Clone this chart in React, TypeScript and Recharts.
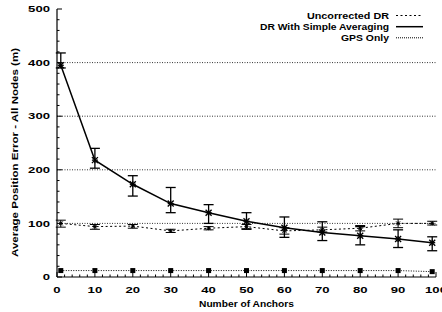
import {
  ComposedChart,
  ErrorBar,
  Legend,
  Line,
  ReferenceLine,
  XAxis,
  YAxis,
} from 'recharts'

const anchors = [1, 10, 20, 30, 40, 50, 60, 70, 80, 90, 99]
const uncorrected = [100, 94, 95, 86, 91, 94, 86, 88, 91, 100, 100]
const uncorrectedLow = [93, 89, 91, 83, 88, 90, 80, 84, 86, 92, 97]
const uncorrectedHigh = [106, 98, 98, 89, 94, 98, 92, 93, 96, 108, 104]
const averaging = [395, 218, 173, 137, 120, 104, 92, 83, 77, 71, 64]
const averagingLow = [390, 203, 151, 120, 100, 89, 74, 68, 60, 55, 49]
const averagingHigh = [418, 240, 189, 167, 135, 120, 112, 103, 94, 88, 75]
const gpsOnly = [12, 12, 12, 12, 12, 12, 12, 12, 12, 12, 10]

const xTicks = [
  0, 2, 4, 6, 8, 10, 12, 14, 16, 18, 20, 22, 24, 26, 28, 30, 32, 34, 36, 38,
  40, 42, 44, 46, 48, 50, 52, 54, 56, 58, 60, 62, 64, 66, 68, 70, 72, 74, 76,
  78, 80, 82, 84, 86, 88, 90, 92, 94, 96, 98, 100,
]
const xLabels = [0, 10, 20, 30, 40, 50, 60, 70, 80, 90, 100]
const yTicks = [
  0, 20, 40, 60, 80, 100, 120, 140, 160, 180, 200, 220, 240, 260, 280, 300,
  320, 340, 360, 380, 400, 420, 440, 460, 480, 500,
]
const yLabels = [0, 100, 200, 300, 400, 500]
const gridLines = [100, 200, 300, 400]

const NAME_UNC = 'Uncorrected DR'
const NAME_AVG = 'DR With Simple Averaging'
const NAME_GPS = 'GPS Only'

const FONT = '"Liberation Sans", Arial, Helvetica, sans-serif'
const DIGIT = 7.3

const data = anchors.map((a, i) => ({
  anchors: a,
  uncorrected: uncorrected[i],
  uncErr: [uncorrected[i] - uncorrectedLow[i], uncorrectedHigh[i] - uncorrected[i]],
  averaging: averaging[i],
  avgErr: [averaging[i] - averagingLow[i], averagingHigh[i] - averaging[i]],
  gps: gpsOnly[i],
}))

const legendRows = [
  { name: NAME_UNC, dash: '2 2.5', width: 82, y: 15.5 },
  { name: NAME_AVG, dash: undefined, width: 129, y: 26.7 },
  { name: NAME_GPS, dash: '1 1', width: 48, y: 37.8 },
]

function BottomTick(props: any) {
  const { x, y, payload } = props
  const v = payload.value
  const major = xLabels.includes(v)
  return (
    <g>
      <line x1={x} y1={y} x2={x} y2={y - (major ? 5 : 2.5)} stroke='#000' />
      {major && (
        <text
          x={x}
          y={y + 15.5}
          textAnchor='middle'
          fontSize={8.6}
          fontWeight='bold'
          fontFamily={FONT}
          textLength={String(v).length * DIGIT}
          lengthAdjust='spacingAndGlyphs'
        >
          {v}
        </text>
      )}
    </g>
  )
}

function TopTick(props: any) {
  const { x, y, payload } = props
  const major = xLabels.includes(payload.value)
  return <line x1={x} y1={y} x2={x} y2={y + (major ? 5 : 2.5)} stroke='#000' />
}

function LeftTick(props: any) {
  const { x, y, payload } = props
  const v = payload.value
  const major = yLabels.includes(v)
  return (
    <g>
      <line x1={x} y1={y} x2={x + (major ? 5 : 2.5)} y2={y} stroke='#000' />
      {major && (
        <text
          x={x - 7}
          y={y + 3.2}
          textAnchor='end'
          fontSize={8.6}
          fontWeight='bold'
          fontFamily={FONT}
          textLength={String(v).length * DIGIT}
          lengthAdjust='spacingAndGlyphs'
        >
          {v}
        </text>
      )}
    </g>
  )
}

function RightTick(props: any) {
  const { x, y, payload } = props
  const major = yLabels.includes(payload.value)
  return <line x1={x} y1={y} x2={x - (major ? 5 : 2.5)} y2={y} stroke='#000' />
}

// gnuplot-style asterisk marker
function StarDot(props: any) {
  const { cx, cy, r = 3, w = 1.2 } = props
  if (cx == null || cy == null) return <g />
  return (
    <g stroke='#000' strokeWidth={w}>
      <line x1={cx - r} y1={cy} x2={cx + r} y2={cy} />
      <line x1={cx} y1={cy - r} x2={cx} y2={cy + r} />
      <line x1={cx - r} y1={cy - r} x2={cx + r} y2={cy + r} />
      <line x1={cx - r} y1={cy + r} x2={cx + r} y2={cy - r} />
    </g>
  )
}

function SquareDot(props: any) {
  const { cx, cy } = props
  if (cx == null || cy == null) return <g />
  return <rect x={cx - 2.5} y={cy - 2.5} width={5} height={5} fill='#000' />
}

function LegendBox() {
  return (
    <svg width={442} height={50} style={{ display: 'block' }}>
      {legendRows.map((r) => (
        <g key={r.name}>
          <text
            x={389}
            y={r.y + 3}
            textAnchor='end'
            fontSize={8.6}
            fontWeight='bold'
            fontFamily={FONT}
            textLength={r.width}
            lengthAdjust='spacingAndGlyphs'
          >
            {r.name}
          </text>
          <line
            x1={396}
            y1={r.y}
            x2={423}
            y2={r.y}
            stroke='#000'
            strokeWidth={r.dash ? 1 : 1.5}
            strokeDasharray={r.dash}
          />
        </g>
      ))}
    </svg>
  )
}

export default function App() {
  return (
    <div
      style={{
        position: 'absolute',
        left: 0,
        top: 0,
        width: 442,
        height: 312,
        background: '#fff',
      }}
    >
      <ComposedChart
        width={442}
        height={312}
        data={data}
        margin={{ top: 9, right: 6, bottom: 0, left: 0 }}
      >
        <XAxis
          dataKey='anchors'
          type='number'
          domain={[0, 100]}
          allowDataOverflow
          ticks={xTicks}
          interval={0}
          tickSize={0}
          tickMargin={0}
          tick={<BottomTick />}
          tickLine={false}
          axisLine={{ stroke: '#000', strokeWidth: 1.2 }}
          height={35}
        />
        <XAxis
          xAxisId='top'
          orientation='top'
          type='number'
          domain={[0, 100]}
          allowDataOverflow
          ticks={xTicks}
          interval={0}
          tickSize={0}
          tickMargin={0}
          tick={<TopTick />}
          tickLine={false}
          axisLine={{ stroke: '#000', strokeWidth: 1.2 }}
          height={0}
        />
        <YAxis
          type='number'
          domain={[0, 500]}
          allowDataOverflow
          ticks={yTicks}
          interval={0}
          tickSize={0}
          tickMargin={0}
          tick={<LeftTick />}
          tickLine={false}
          axisLine={{ stroke: '#000', strokeWidth: 1.2 }}
          width={57}
        />
        <YAxis
          yAxisId='right'
          orientation='right'
          type='number'
          domain={[0, 500]}
          allowDataOverflow
          ticks={yTicks}
          interval={0}
          tickSize={0}
          tickMargin={0}
          tick={<RightTick />}
          tickLine={false}
          axisLine={{ stroke: '#000', strokeWidth: 1.2 }}
          width={0}
        />
        {gridLines.map((g) => (
          <ReferenceLine
            key={g}
            y={g}
            stroke='#000'
            strokeWidth={0.8}
            strokeDasharray='1 1.5'
          />
        ))}
        <Legend
          layout='vertical'
          align='center'
          verticalAlign='middle'
          content={() => <LegendBox />}
          wrapperStyle={{ position: 'absolute', left: 0, top: 0, width: 442, height: 50 }}
        />
        <Line
          name={NAME_UNC}
          dataKey='uncorrected'
          stroke='#000'
          strokeWidth={1}
          strokeDasharray='2 2.5'
          dot={<StarDot r={2} w={1} />}
          isAnimationActive={false}
        >
          <ErrorBar dataKey='uncErr' width={5} stroke='#000' strokeWidth={1} direction='y' />
        </Line>
        <Line
          name={NAME_AVG}
          dataKey='averaging'
          stroke='#000'
          strokeWidth={1.5}
          dot={<StarDot r={3} w={1.3} />}
          isAnimationActive={false}
        >
          <ErrorBar dataKey='avgErr' width={5} stroke='#000' strokeWidth={1.3} direction='y' />
        </Line>
        <Line
          name={NAME_GPS}
          dataKey='gps'
          stroke='#000'
          strokeWidth={1}
          strokeDasharray='1 1.5'
          dot={<SquareDot />}
          isAnimationActive={false}
        />
      </ComposedChart>
      <svg
        width={442}
        height={312}
        style={{ position: 'absolute', left: 0, top: 0, pointerEvents: 'none' }}
      >
        <text
          x={246.5}
          y={306.5}
          textAnchor='middle'
          fontSize={8.6}
          fontWeight='bold'
          fontFamily={FONT}
          textLength={95}
          lengthAdjust='spacingAndGlyphs'
        >
          Number of Anchors
        </text>
        <text
          transform='translate(17.5,152.5) rotate(-90)'
          textAnchor='middle'
          fontSize={8.6}
          fontWeight='bold'
          fontFamily={FONT}
          textLength={209}
          lengthAdjust='spacingAndGlyphs'
        >
          Average Position Error - All Nodes (m)
        </text>
      </svg>
    </div>
  )
}
